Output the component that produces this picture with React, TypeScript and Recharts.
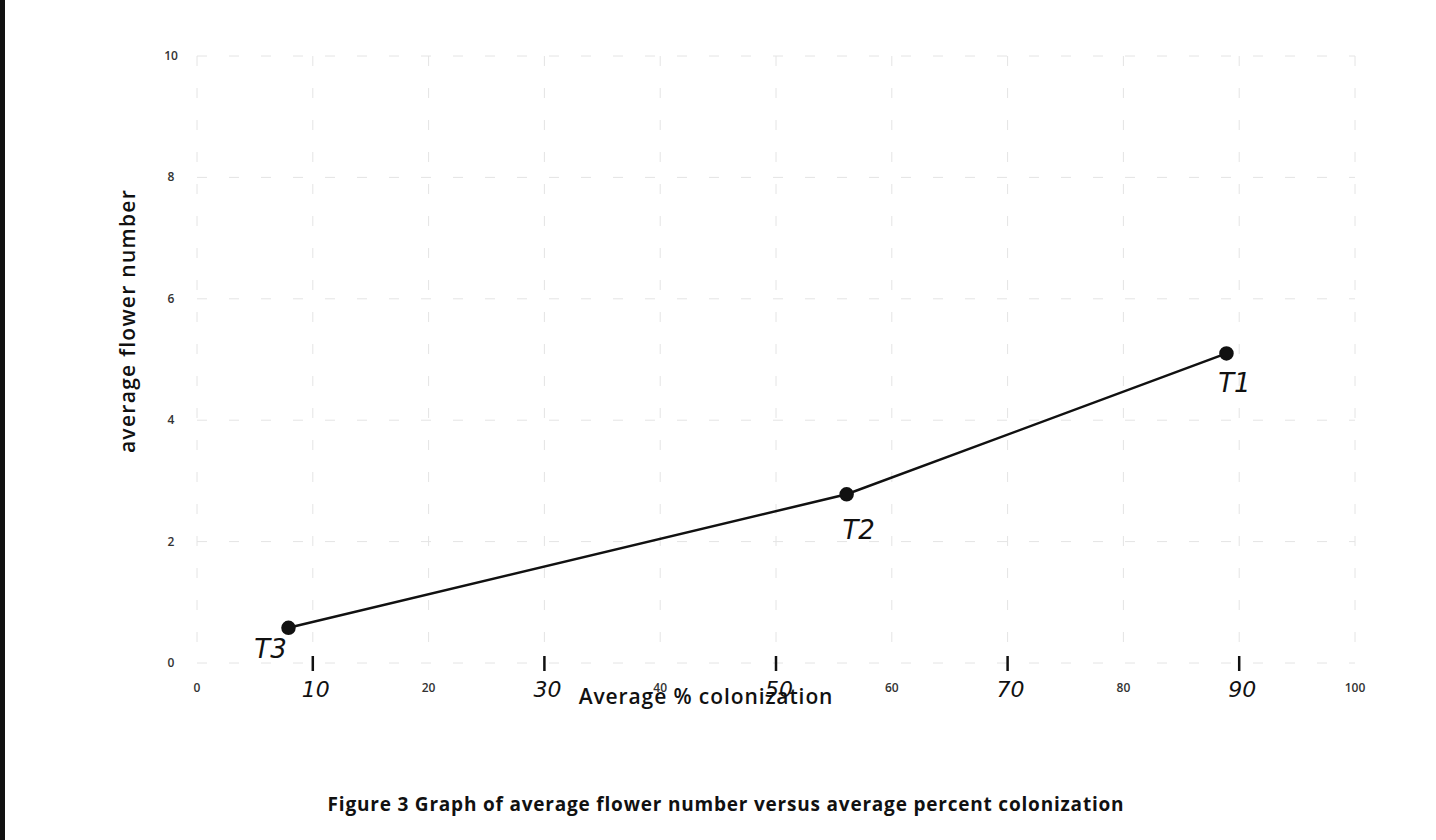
import { LineChart, Line, XAxis, YAxis, CartesianGrid, LabelList } from 'recharts';

// average % colonization vs average flower number
const colonization = [7.9, 56.1, 88.9];
const flowerNumber = [0.58, 2.78, 5.1];
const treatments = ['T3', 'T2', 'T1'];

const xTicks = [0, 10, 20, 30, 40, 50, 60, 70, 80, 90, 100];
const yTicks = [0, 2, 4, 6, 8, 10];
// ticks that were re-written by hand on the printout
const handTicks = [10, 30, 50, 70, 90];

const data = colonization.map((x, i) => ({ x, y: flowerNumber[i], name: treatments[i] }));

const labelOffsets: Record<string, [number, number]> = {
  T3: [-18, 30],
  T2: [12, 45],
  T1: [8, 39],
};

const printed = { fontFamily: 'Open Sans, sans-serif', fontSize: 12, fill: '#333', fontWeight: 600 };
const hand = { fontFamily: 'DejaVu Sans, sans-serif', fontSize: 22, fill: '#111', fontStyle: 'italic' as const };

function XTick(props: any) {
  const { x, y, payload } = props;
  const v = payload.value;
  if (handTicks.includes(v)) {
    return (
      <g>
        <line x1={x} x2={x} y1={y - 13} y2={y + 2} stroke="#111" strokeWidth={2.5} />
        <text x={x + 3} y={y + 28} textAnchor="middle" {...hand}>{v}</text>
      </g>
    );
  }
  return (
    <text x={x} y={y + 23} textAnchor="middle" {...printed}>{v}</text>
  );
}

function YTick(props: any) {
  const { x, y, payload } = props;
  return (
    <text x={x - 20} y={y + 4} textAnchor="middle" {...printed}>{payload.value}</text>
  );
}

function PointLabel(props: any) {
  const { x, y, value } = props;
  const [dx, dy] = labelOffsets[value] ?? [0, 30];
  return (
    <text x={x + dx} y={y + dy} textAnchor="middle" {...hand} fontSize={26}>{value}</text>
  );
}

export default function App() {
  return (
    <div style={{ position: 'absolute', left: 0, top: 0, width: 1436, height: 840, background: '#fff', overflow: 'hidden' }}>
      <div style={{ position: 'absolute', left: 0, top: 0, width: 5, height: 840, background: '#111' }} />
      <LineChart width={1436} height={840} data={data} margin={{ top: 56, right: 81, left: 0, bottom: 147 }}>
        <CartesianGrid stroke="#e4e4e4" strokeDasharray="10 22" />
        <XAxis
          type="number"
          dataKey="x"
          domain={[0, 100]}
          ticks={xTicks}
          axisLine={false}
          tickLine={false}
          tickMargin={0}
          tick={<XTick />}
          label={{
            content: () => (
              <text x={706} y={704} textAnchor="middle" fontFamily="Open Sans, sans-serif" fontSize={21} letterSpacing={0.9} fill="#111" fontWeight={600}>
                Average % colonization
              </text>
            ),
          }}
        />
        <YAxis
          type="number"
          domain={[0, 10]}
          ticks={yTicks}
          width={197}
          axisLine={false}
          tickLine={false}
          tickMargin={0}
          tick={<YTick />}
          label={{
            content: () => (
              <text x={135} y={321} transform="rotate(-90 135 321)" textAnchor="middle" fontFamily="Open Sans, sans-serif" fontSize={21} letterSpacing={1.3} fill="#111" fontWeight={600}>
                average flower number
              </text>
            ),
          }}
        />
        <Line
          dataKey="y"
          stroke="#111"
          strokeWidth={2.5}
          dot={{ r: 6, fill: '#111', stroke: '#111' }}
          isAnimationActive={false}
        >
          <LabelList dataKey="name" content={<PointLabel />} />
        </Line>
      </LineChart>
      <div
        style={{
          position: 'absolute',
          left: 0,
          width: 1436,
          top: 791,
          textAlign: 'center',
          paddingLeft: 16,
          boxSizing: 'border-box',
          fontFamily: 'Open Sans, sans-serif',
          fontWeight: 700,
          fontSize: 19,
          letterSpacing: 0.8,
          color: '#111',
        }}
      >
        Figure 3 Graph of average flower number versus average percent colonization
      </div>
    </div>
  );
}
